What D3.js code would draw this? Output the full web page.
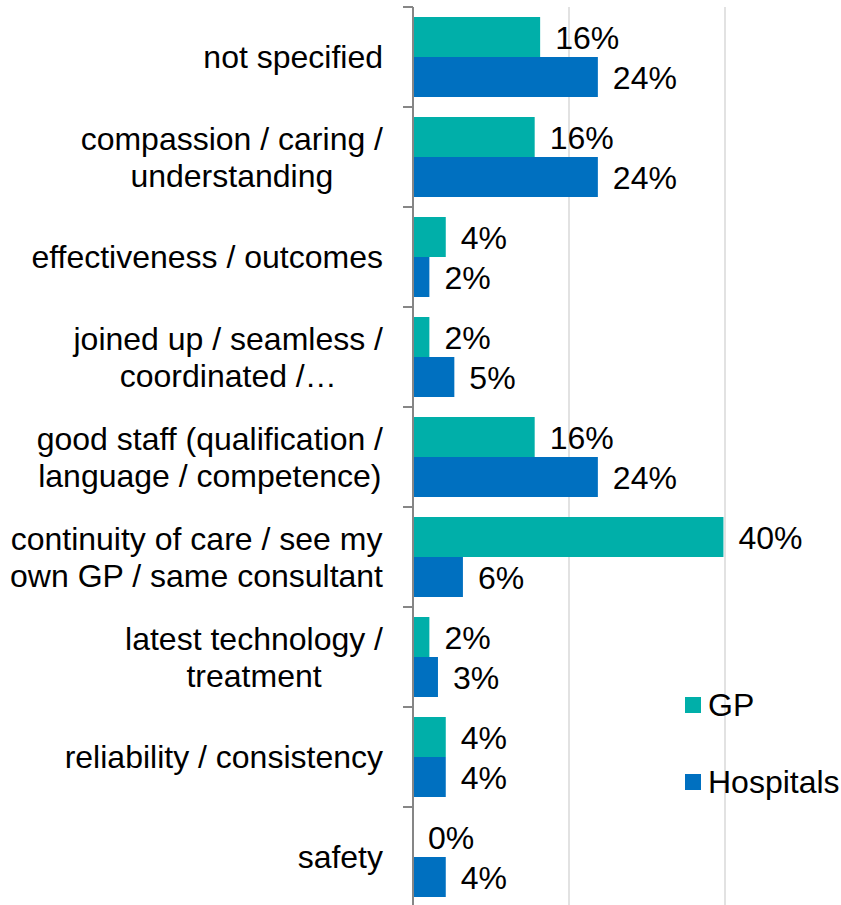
<!DOCTYPE html>
<html>
<head>
<meta charset="utf-8">
<script src="https://cdn.jsdelivr.net/npm/d3@7"></script>
<style>
  html, body { margin: 0; padding: 0; background: #fff; }
  svg { display: block; font-family: "Liberation Sans", Arial, sans-serif; }
</style>
</head>
<body>
<svg id="chart" width="841" height="905"></svg>
<script>
// ---- data ----
const categories = [
  "not specified",
  "compassion / caring /\nunderstanding",
  "effectiveness / outcomes",
  "joined up / seamless /\ncoordinated /…",
  "good staff (qualification /\nlanguage / competence)",
  "continuity of care / see my\nown GP / same consultant",
  "latest technology /\ntreatment",
  "reliability / consistency",
  "safety"
];
const seriesNames = ["GP", "Hospitals"];
const gpValues =        [0.163, 0.156, 0.042, 0.021, 0.156, 0.398, 0.021, 0.042, 0.0];
const hospitalValues =  [0.237, 0.237, 0.021, 0.053, 0.237, 0.064, 0.032, 0.042, 0.042];
const gridTicks = [0.2, 0.4];
const colors = { "GP": "#00AFA9", "Hospitals": "#0070C0" };

// ---- scales ----
const svg = d3.select("#chart");
const x = d3.scaleLinear().domain([0, 0.6]).range([413, 881]);
const y = d3.scaleBand().domain(categories).range([7, 907]).paddingInner(0).paddingOuter(0);
const ySub = d3.scaleBand().domain(seriesNames).range([0, y.bandwidth()]).paddingInner(0).paddingOuter(0.25);

const rows = categories.map((c, i) => ({ cat: c, values: [
  { key: "GP", v: gpValues[i] },
  { key: "Hospitals", v: hospitalValues[i] }
]}));

// gridlines
svg.append("g").selectAll("line").data(gridTicks).join("line")
  .attr("x1", d => x(d)).attr("x2", d => x(d))
  .attr("y1", 7).attr("y2", 907)
  .attr("stroke", "#d9d9d9").attr("stroke-width", 1.5);

// bars
const groups = svg.append("g").selectAll("g").data(rows).join("g")
  .attr("transform", d => `translate(0,${y(d.cat)})`);

groups.selectAll("rect").data(d => d.values).join("rect")
  .attr("x", x(0))
  .attr("y", d => ySub(d.key))
  .attr("width", d => x(d.v) - x(0))
  .attr("height", ySub.bandwidth())
  .attr("fill", d => colors[d.key]);

// data labels
const fmt = d3.format(".0%");
groups.selectAll("text").data(d => d.values).join("text")
  .attr("x", d => x(d.v) + 15)
  .attr("y", d => ySub(d.key) + ySub.bandwidth() / 2)
  .attr("dy", "0.36em")
  .attr("font-size", 32)
  .attr("fill", "#000")
  .text(d => fmt(d.v));

// axis (left) with ticks at band boundaries
const axis = d3.axisLeft(y).tickSize(0).tickFormat("");
const axG = svg.append("g").attr("transform", `translate(${x(0)},0)`).call(axis);
axG.select(".domain").attr("stroke", "#868686").attr("stroke-width", 2).attr("d", `M0,${y.range()[0]}V${y.range()[1]}`);
const boundaries = categories.map(c => y(c)).concat([y.range()[1]]);
axG.selectAll(".bnd").data(boundaries).join("line").attr("class", "bnd")
  .attr("x1", -10).attr("x2", 0)
  .attr("y1", d => d).attr("y2", d => d)
  .attr("stroke", "#868686").attr("stroke-width", 2);

// category labels
const labelRight = 383;
const lineH = 37;
const catG = svg.append("g");
rows.forEach(r => {
  const lines = r.cat.split("\n");
  const cy = y(r.cat) + y.bandwidth() / 2;
  const t = catG.append("text").attr("font-size", 32).attr("fill", "#000").attr("text-anchor", "middle");
  const spans = lines.map((ln, i) => t.append("tspan")
    .attr("y", cy + (i - (lines.length - 1) / 2) * lineH + 11)
    .text(ln));
  const maxW = d3.max(spans, s => s.node().getComputedTextLength());
  spans.forEach(s => s.attr("x", labelRight - maxW / 2));
});

// legend
const legend = svg.append("g");
seriesNames.forEach((s, i) => {
  const ly = 697 + i * 77;
  legend.append("rect").attr("x", 685).attr("y", ly).attr("width", 16).attr("height", 16).attr("fill", colors[s]);
  legend.append("text").attr("x", 708).attr("y", ly + 19).attr("font-size", 32).attr("fill", "#000").text(s);
});
</script>
</body>
</html>
